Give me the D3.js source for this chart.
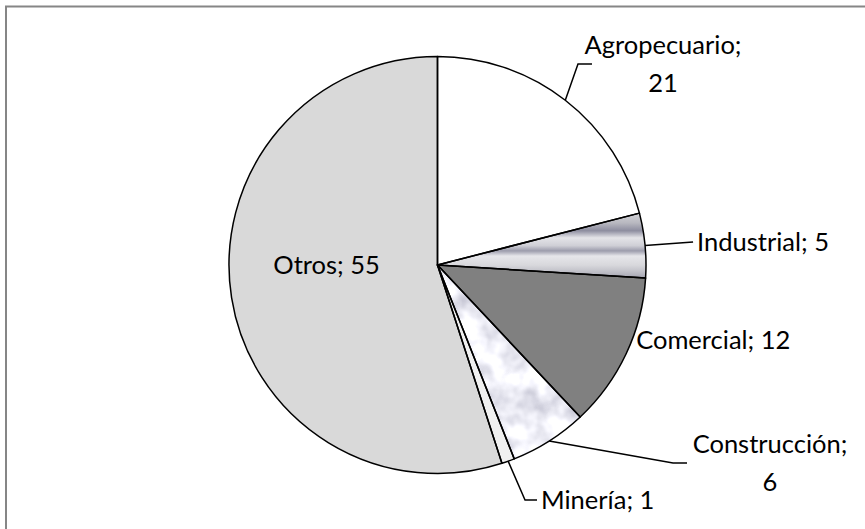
<!DOCTYPE html>
<html>
<head>
<meta charset="utf-8">
<script src="https://cdn.jsdelivr.net/npm/d3@7"></script>
<style>
  body { margin: 0; background: #fff; }
  text { font-family: Lato, "Open Sans", sans-serif; font-size: 25.5px; fill: #000; }
</style>
</head>
<body>
<div id="chart"></div>
<script>
const width = 865;
const height = 529;

// data
const categories = ["Agropecuario", "Industrial", "Comercial", "Construcción", "Minería", "Otros"];
const values = [21, 5, 12, 6, 1, 55];

// slice fills (styles)
const fills = ["#ffffff", "url(#metal)", "#808080", null, "#f0f0f0", "#d9d9d9"];

// label layout: leader elbow offset from rim point, horizontal tail, text placement
const labelLayout = {
  "Agropecuario": { elbow: [12.7, -36.3], tail: 14, anchor: "middle", tx: 71, lines: 2 },
  "Industrial":   { elbow: [48, -3.4], tail: 0, anchor: "start", tx: 4, lines: 1 },
  "Comercial":    { free: [10, -14], anchor: "start", lines: 1 },
  "Construcción": { elbow: [123.8, 21.9], tail: 14, anchor: "middle", tx: 83, lines: 2 },
  "Minería":      { elbow: [16.9, 38.8], tail: 12, anchor: "start", tx: 4, lines: 1 },
  "Otros":        { free: [-8, -16], anchor: "middle", lines: 1, inside: true }
};

const cx = 437.5, cy = 265, radius = 208.5;
const lineGap = 38;

const svg = d3.select("#chart")
  .append("svg")
  .attr("width", width)
  .attr("height", height);

const defs = svg.append("defs");

const metal = defs.append("linearGradient")
  .attr("id", "metal")
  .attr("x1", 0).attr("y1", 0).attr("x2", 0).attr("y2", 1);
[[0, "#d4d4d8"], [0.15, "#b8b8c0"], [0.27, "#8e8ea0"], [0.38, "#e4e4e8"], [0.5, "#cfcfd6"],
 [0.58, "#9c9cac"], [0.66, "#e6e6ea"], [0.8, "#d8d8dc"], [0.9, "#c0c0c8"], [1, "#a4a4b0"]]
  .forEach(s => metal.append("stop").attr("offset", s[0]).attr("stop-color", s[1]));

const marble = defs.append("filter")
  .attr("id", "marble")
  .attr("x", 0).attr("y", 0).attr("width", 1).attr("height", 1);
marble.append("feTurbulence")
  .attr("type", "fractalNoise")
  .attr("baseFrequency", 0.04)
  .attr("numOctaves", 3)
  .attr("seed", 7)
  .attr("result", "n");
marble.append("feColorMatrix")
  .attr("in", "n")
  .attr("type", "matrix")
  .attr("values", "-1.1 0 0 0 1.4  -1.1 0 0 0 1.4  -1.0 0 0 0 1.42  0 0 0 0 1")
  .attr("result", "c");
marble.append("feComposite")
  .attr("in", "c")
  .attr("in2", "SourceGraphic")
  .attr("operator", "in");

// chart frame
svg.append("rect")
  .attr("x", 6).attr("y", 6.5)
  .attr("width", width + 10).attr("height", height + 10)
  .attr("fill", "none")
  .attr("stroke", "#868686")
  .attr("stroke-width", 2);

const data = categories.map((c, i) => ({ name: c, value: values[i], fill: fills[i] }));

const pie = d3.pie()
  .sort(null)
  .value(d => d.value);

const arc = d3.arc()
  .innerRadius(0)
  .outerRadius(radius);

const arcs = pie(data);

const g = svg.append("g")
  .attr("transform", `translate(${cx},${cy})`);

g.selectAll("path.slice")
  .data(arcs)
  .enter()
  .append("path")
  .attr("class", "slice")
  .attr("d", arc)
  .attr("fill", d => d.data.fill || "#eeeef2")
  .attr("filter", d => d.data.fill ? null : "url(#marble)");

g.selectAll("path.edge")
  .data(arcs)
  .enter()
  .append("path")
  .attr("class", "edge")
  .attr("d", arc)
  .attr("fill", "none")
  .attr("stroke", "#000")
  .attr("stroke-width", 1.5)
  .attr("stroke-linejoin", "round");

// labels
const rim = d => {
  const a = (d.startAngle + d.endAngle) / 2;
  return [radius * Math.sin(a), -radius * Math.cos(a)];
};

arcs.forEach(d => {
  const L = labelLayout[d.data.name];
  const label = `${d.data.name}; ${d.data.value}`;
  let tx, ty;
  if (L.free) {
    const p = L.inside ? arc.centroid(d) : rim(d);
    tx = p[0] + L.free[0];
    ty = p[1] + L.free[1];
  } else {
    const p0 = rim(d);
    const p1 = [p0[0] + L.elbow[0], p0[1] + L.elbow[1]];
    const p2 = [p1[0] + L.tail, p1[1]];
    g.append("path")
      .attr("d", d3.line()([p0, p1, p2]))
      .attr("fill", "none")
      .attr("stroke", "#000")
      .attr("stroke-width", 1.5);
    tx = p2[0] + L.tx;
    ty = p2[1];
  }
  const t = g.append("text")
    .attr("text-anchor", L.anchor)
    .attr("x", tx);
  if (L.lines === 2) {
    t.append("tspan").attr("x", tx).attr("y", ty - lineGap / 2).attr("dy", "0.35em").text(`${d.data.name};`);
    t.append("tspan").attr("x", tx).attr("y", ty + lineGap / 2).attr("dy", "0.35em").text(d.data.value);
  } else {
    t.attr("y", ty).attr("dy", "0.35em").text(label);
  }
});
</script>
</body>
</html>
